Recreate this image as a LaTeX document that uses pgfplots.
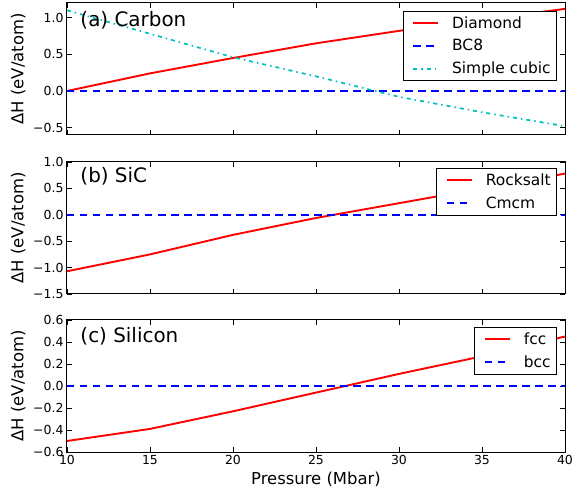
\documentclass[border=0pt]{standalone}
\usepackage{fontspec}
\setmainfont{DejaVu Sans}
\usepackage{pgfplots}
\pgfplotsset{compat=1.18}

\definecolor{mplred}{rgb}{1,0,0}
\definecolor{mplblue}{rgb}{0,0,1}
\definecolor{mplcyan}{rgb}{0,0.75,0.75}

\pgfplotsset{
  panel/.style={
    scale only axis, width=498bp, height=132bp,
    xmin=10, xmax=40, xtick={10,15,...,40},
    tickpos=both, tick align=inside, major tick length=5bp,
    axis line style={line width=1bp},
    every tick/.style={black, line width=0.8bp},
    tick label style={font=\fontsize{12.5}{14}\selectfont},
    /pgf/number format/assume math mode=true,
    ylabel={ΔH (eV/atom)},
    ylabel style={at={(axis description cs:-0.098,0.5)}, anchor=center, font=\fontsize{16.5}{18}\selectfont},
    legend style={draw=black, line width=0.8bp, font=\fontsize{15.5}{17}\selectfont,
      anchor=north east, cells={anchor=west}, row sep=5.5bp, inner xsep=4bp, inner ysep=3.5bp},
    legend image code/.code={\draw[#1, line width=2bp] (0bp,0bp) -- (25bp,0bp);
      \pgfpathmoveto{\pgfqpoint{-6bp}{0bp}}\pgfpathmoveto{\pgfqpoint{37bp}{0bp}}\pgfusepath{}},
  },
  solidred/.style={mplred, line width=1.9bp},
  dashblue/.style={mplblue, line width=1.7bp, dash pattern=on 7.5bp off 5.5bp},
  dotcyan/.style={mplcyan, line width=1.7bp, dash pattern=on 4bp off 4bp on 1.5bp off 4bp},
}

\begin{document}
\begin{tikzpicture}
\path[use as bounding box] (-67bp,-43bp) rectangle (506bp,452bp);

% (a) Carbon
\begin{axis}[panel, at={(0bp,317bp)},
  ymin=-0.6, ymax=1.2, ytick={-0.5,0,0.5,1},
  yticklabels={−0.5,0.0,0.5,1.0}, xticklabels={},
  legend style={at={(rel axis cs:0.984,0.94)}}]
\addplot[solidred] coordinates {(10,0) (15,0.24) (20,0.45) (25,0.65) (30,0.82) (35,0.97) (40,1.12)};
\addlegendentry{Diamond}
\addplot[dashblue] coordinates {(10,0) (40,0)};
\addlegendentry{BC8}
\addplot[dotcyan] coordinates {(10,1.10) (15,0.78) (20,0.46) (25,0.20) (30,-0.08) (35,-0.29) (40,-0.48)};
\addlegendentry{Simple cubic}
\node[anchor=west, font=\fontsize{20}{24}\selectfont] at (rel axis cs:0.02,0.87) {(a) Carbon};
\end{axis}

% (b) SiC
\begin{axis}[panel, at={(0bp,158bp)},
  ymin=-1.5, ymax=1.0, ytick={-1.5,-1,-0.5,0,0.5,1},
  yticklabels={−1.5,−1.0,−0.5,0.0,0.5,1.0}, xticklabels={},
  legend style={at={(rel axis cs:0.984,0.955)}}]
\addplot[solidred] coordinates {(10,-1.07) (15,-0.75) (20,-0.38) (25,-0.06) (30,0.22) (35,0.50) (40,0.78)};
\addlegendentry{Rocksalt}
\addplot[dashblue] coordinates {(10,0) (40,0)};
\addlegendentry{Cmcm}
\node[anchor=west, font=\fontsize{20}{24}\selectfont] at (rel axis cs:0.02,0.89) {(b) SiC};
\end{axis}

% (c) Silicon
\begin{axis}[panel, at={(0bp,0bp)},
  ymin=-0.6, ymax=0.6, ytick={-0.6,-0.4,...,0.6},
  yticklabels={−0.6,−0.4,−0.2,0.0,0.2,0.4,0.6},
  xlabel={Pressure (Mbar)},
  xlabel style={font=\fontsize{16.5}{18}\selectfont},
  legend style={at={(rel axis cs:0.984,0.9485)}}]
\addplot[solidred] coordinates {(10,-0.50) (15,-0.39) (20,-0.23) (25,-0.06) (30,0.11) (35,0.27) (40,0.45)};
\addlegendentry{fcc}
\addplot[dashblue] coordinates {(10,0) (40,0)};
\addlegendentry{bcc}
\node[anchor=west, font=\fontsize{20}{24}\selectfont] at (rel axis cs:0.02,0.88) {(c) Silicon};
\end{axis}
\end{tikzpicture}
\end{document}
